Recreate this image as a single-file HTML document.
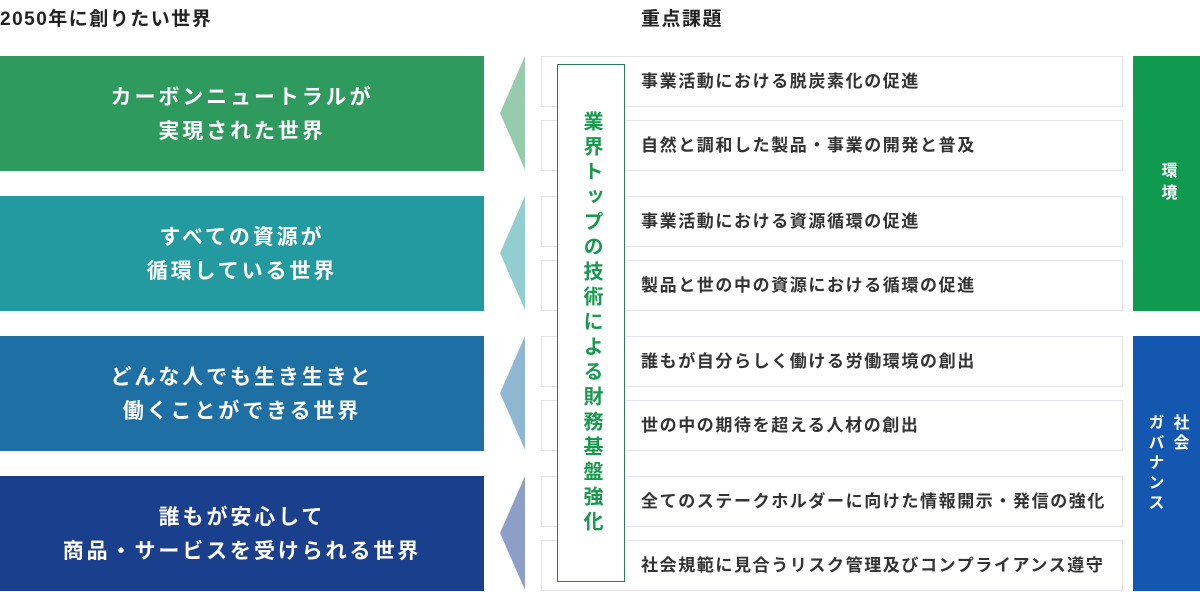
<!DOCTYPE html>
<html><head><meta charset="utf-8"><style>
body{margin:0;width:1200px;height:592px;background:#fff;position:relative;overflow:hidden;font-family:"Liberation Sans","Noto Sans CJK JP",sans-serif;}
.a{position:absolute}
.h{font-size:19px;color:#222;top:4px;letter-spacing:1.5px;font-weight:700}
.L{position:absolute;left:0;width:484px;height:115px;color:#fff;font-size:21px;font-weight:700;display:flex;align-items:center;justify-content:center;text-align:center;line-height:34px;letter-spacing:2.9px;padding-top:2px;box-sizing:border-box}
.I{position:absolute;left:541px;width:582px;height:51px;border:1px solid #e3e3e8;box-sizing:border-box;}
.t{position:absolute;left:641px;font-size:17px;color:#333;line-height:20px;letter-spacing:1.6px;font-weight:700}
.R{position:absolute;left:1133px;width:67px;height:255px;color:#fff;font-size:16px;font-weight:700;display:flex;align-items:center;justify-content:center}
.v{writing-mode:vertical-rl;}
</style></head><body>
<div class="a h" style="left:0">2050年に創りたい世界</div>
<div class="a h" style="left:641px">重点課題</div>
<div class="L" style="top:56px;background:#2f9a5d">カーボンニュートラルが<br>実現された世界</div>
<div class="L" style="top:196px;background:#239a9f">すべての資源が<br>循環している世界</div>
<div class="L" style="top:336px;background:#1d6fa4">どんな人でも生き生きと<br>働くことができる世界</div>
<div class="L" style="top:476px;background:#1a3f8d">誰もが安心して<br>商品・サービスを受けられる世界</div>
<svg class="a" style="left:498px;top:0" width="30" height="592">
<polygon points="27,56 27,170 2,113" fill="#97cbae"/>
<polygon points="27,196 27,310 2,253" fill="#92cdcf"/>
<polygon points="27,336 27,450 2,393" fill="#8fb7d2"/>
<polygon points="27,476 27,590 2,533" fill="#8d9fc6"/>
</svg>
<div class="I" style="top:56px"></div><div class="I" style="top:120px"></div>
<div class="I" style="top:196px"></div><div class="I" style="top:260px"></div>
<div class="I" style="top:336px"></div><div class="I" style="top:400px"></div>
<div class="I" style="top:476px"></div><div class="I" style="top:540px"></div>
<div class="t" style="top:72px">事業活動における脱炭素化の促進</div>
<div class="t" style="top:136px">自然と調和した製品・事業の開発と普及</div>
<div class="t" style="top:212px">事業活動における資源循環の促進</div>
<div class="t" style="top:276px">製品と世の中の資源における循環の促進</div>
<div class="t" style="top:352px">誰もが自分らしく働ける労働環境の創出</div>
<div class="t" style="top:416px">世の中の期待を超える人材の創出</div>
<div class="t" style="top:492px">全てのステークホルダーに向けた情報開示・発信の強化</div>
<div class="t" style="top:556px">社会規範に見合うリスク管理及びコンプライアンス遵守</div>
<div class="a" style="left:557px;top:64px;width:68px;height:518px;box-sizing:border-box;border:1.5px solid #2b7a5c;background:#fff;display:flex;align-items:center;justify-content:center">
<div class="v" style="color:#17994e;font-size:20px;font-weight:700;letter-spacing:5px;line-height:24px">業界トップの技術による財務基盤強化</div></div>
<div class="R" style="top:56px;background:#0f9a50"><div class="v" style="letter-spacing:6px">環境</div></div>
<div class="R" style="top:336px;background:#1457b1"><div class="v" style="letter-spacing:4px;line-height:25px">社会<br>ガバナンス</div></div>
</body></html>
